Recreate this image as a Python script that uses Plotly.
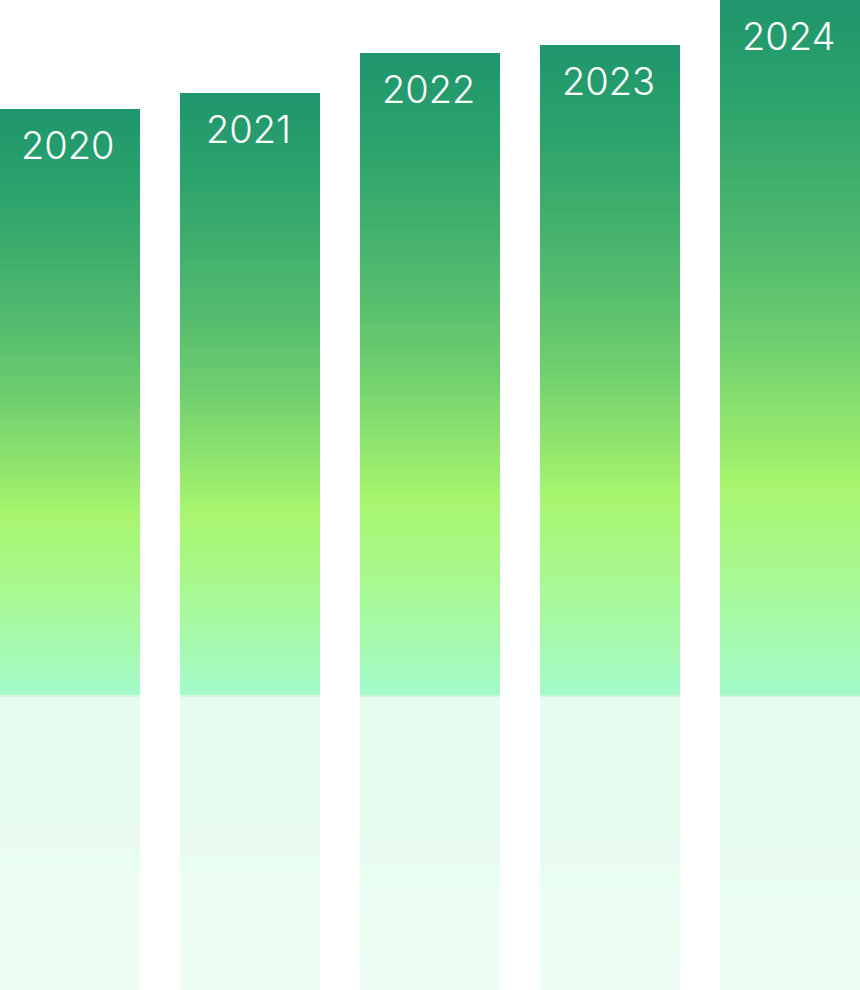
import plotly.graph_objects as go

# ---- data ----
years = ["2020", "2021", "2022", "2023", "2024"]
values = [583, 599, 639, 647, 692]

# ---- gradient style (fraction from top of bar -> rgb) ----
stops = [
    (0.00, (31, 150, 108)),
    (0.15, (45, 163, 108)),
    (0.35, (80, 185, 110)),
    (0.50, (112, 207, 110)),
    (0.60, (140, 226, 110)),
    (0.70, (168, 246, 110)),
    (0.85, (168, 249, 152)),
    (1.00, (163, 250, 200)),
]

def grad(f):
    for (f0, c0), (f1, c1) in zip(stops[:-1], stops[1:]):
        if f0 <= f <= f1:
            t = (f - f0) / (f1 - f0) if f1 > f0 else 0
            c = [round(a + (b - a) * t) for a, b in zip(c0, c1)]
            return f"rgb({c[0]},{c[1]},{c[2]})"
    c = stops[-1][1]
    return f"rgb({c[0]},{c[1]},{c[2]})"

N = 120
xs, bases, hs, cols = [], [], [], []
for i, v in enumerate(values):
    seg = v / N
    for k in range(N):
        top = v - k * seg
        xs.append(i)
        bases.append(top - seg * 1.6)
        hs.append(seg * 1.6)
        cols.append(grad((k + 0.5) / N))
    xs.append(i); bases.append(0); hs.append(seg); cols.append(grad(1.0))

# reflection (mirrored bars below baseline)
rx, rb, rh, rc = [], [], [], []
M = 40
for i, v in enumerate(values):
    seg = v / M
    for k in range(M):
        t = min(1, 2 * k / M)
        r = round(230 + (238 - 230) * t)
        g = round(252 + (253 - 252) * t)
        b = round(238 + (244 - 238) * t)
        rx.append(i)
        rb.append(-(k + 1) * seg - seg * 0.3)
        rh.append(seg * 1.3)
        rc.append(f"rgb({r},{g},{b})")
    rx.append(i); rb.append(-5); rh.append(5); rc.append("rgb(216,245,227)")

W = 140 / 180

fig = go.Figure()
fig.add_trace(go.Bar(x=rx, y=rh, base=rb, width=W,
                     marker=dict(color=rc, line=dict(width=0)),
                     hoverinfo="skip", showlegend=False))
fig.add_trace(go.Bar(x=xs, y=hs, base=bases, width=W,
                     marker=dict(color=cols, line=dict(width=0)),
                     hoverinfo="skip", showlegend=False))

for i, (yr, v) in enumerate(zip(years, values)):
    fig.add_annotation(x=i, y=v, text=yr, showarrow=False, yanchor="middle",
                       xanchor="center", xshift=-2, yshift=-36,
                       font=dict(family="Inter", size=38, color="white", weight=300))

fig.update_layout(
    width=860, height=990,
    margin=dict(l=0, r=0, t=0, b=0),
    paper_bgcolor="white", plot_bgcolor="white",
    barmode="overlay",
    xaxis=dict(range=[-70 / 180, (860 - 70) / 180], visible=False, fixedrange=True),
    yaxis=dict(range=[-298, 692], visible=False, fixedrange=True),
    showlegend=False,
)
fig.write_html("out.html", config={"displayModeBar": False},
               post_script="document.body.style.margin='0';document.body.style.overflow='hidden';")
